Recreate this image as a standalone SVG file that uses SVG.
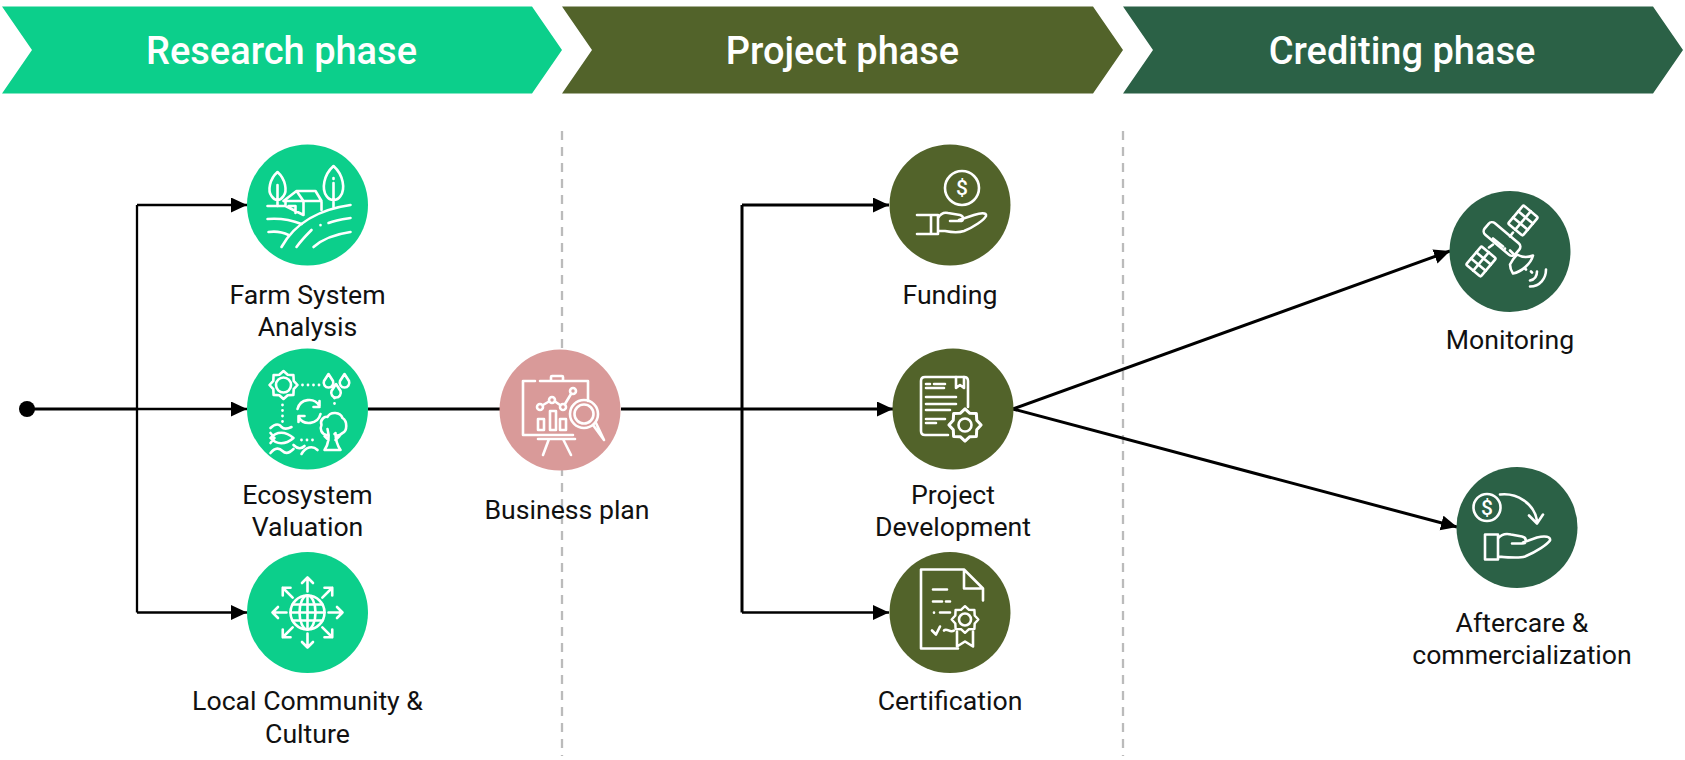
<svg xmlns="http://www.w3.org/2000/svg" width="1685" height="760" viewBox="0 0 1685 760">
<style>
.bg{fill:#fff}
.c1{fill:#0ccf8b}.c2{fill:#52632a}.c3{fill:#2b6146}.c4{fill:#d99a99}
.head{font:500 38px Roboto,"Liberation Sans",sans-serif;fill:#fff;text-anchor:middle}
.lab{font:400 26.670px Roboto,"Liberation Sans",sans-serif;fill:#111;text-anchor:middle}
.ic{fill:none;stroke:#fff;stroke-width:2.600;stroke-linecap:round;stroke-linejoin:round}
.dots{stroke-dasharray:0 5.500;stroke-width:2.800}
.dollar{font:500 21px Roboto,"Liberation Sans",sans-serif;fill:#fff;text-anchor:middle}
.div{stroke:#bbb;stroke-width:2.300;stroke-dasharray:9 7;fill:none}
.ln{stroke:#000;stroke-width:3;fill:none}
.th{stroke-width:2.300}
</style>
<defs>
<marker id="ah" markerUnits="userSpaceOnUse" markerWidth="17" markerHeight="16" refX="16" refY="7.500" orient="auto"><path d="M0 0L16 7.500L0 15Z" fill="#000"/></marker>
<polygon id="star" points="14,0 10.2,4.2 9.9,9.9 4.2,10.2 0,14 -4.2,10.2 -9.9,9.9 -10.2,4.2 -14,0 -10.2,-4.2 -9.9,-9.9 -4.2,-10.2 0,-14 4.2,-10.2 9.9,-9.9 10.2,-4.2"/>
<g id="arr"><path d="M0 -21V-35M-5.500 -29.500L0 -35L5.500 -29.500"/></g>
<g id="panel"><rect x="-12" y="-9.500" width="24" height="19" rx="1.500"/><path d="M-4 -9.500V9.500M4 -9.500V9.500M-12 0H12"/></g>
</defs>
<rect class="bg" width="1685" height="760"/>
<g id="dividers"><path class="div" d="M562 131V756"/><path class="div" d="M1123 131V756"/></g>
<g id="phase-research"><path class="c1" d="M2 6.500H532L562 50L532 93.500H2L32 50Z"/><text class="head" x="281.500" y="63.500">Research phase</text></g>
<g id="phase-project"><path class="c2" d="M562 6.500H1093L1123 50L1093 93.500H562L592 50Z"/><text class="head" x="842.500" y="63.500">Project phase</text></g>
<g id="phase-crediting"><path class="c3" d="M1123 6.500H1653L1683 50L1653 93.500H1123L1153 50Z"/><text class="head" x="1402" y="63.500">Crediting phase</text></g>
<g id="connectors">
<circle cx="27" cy="409" r="8" fill="#000"/>
<path class="ln" d="M27 409H137"/>
<path class="ln th" d="M137 205V612.500"/>
<path class="ln th" d="M137 205H247" marker-end="url(#ah)"/>
<path class="ln th" d="M137 409H247" marker-end="url(#ah)"/>
<path class="ln th" d="M137 612.500H247" marker-end="url(#ah)"/>
<path class="ln" d="M368 409H500"/>
<path class="ln" d="M621 409H893" marker-end="url(#ah)"/>
<path class="ln" d="M742 205V612.500"/>
<path class="ln" d="M742 205H889" marker-end="url(#ah)"/>
<path class="ln th" d="M742 612.500H889" marker-end="url(#ah)"/>
<path class="ln" d="M1013 409L1450 251" marker-end="url(#ah)"/>
<path class="ln" d="M1013 409L1457 527" marker-end="url(#ah)"/>
</g>
<g id="node-farm"><circle class="c1" cx="307.500" cy="205" r="60.500"/>
<g class="ic" transform="translate(307.500 205)">
<path d="M-30 -33C-38 -26 -40 -14 -36 -9C-34 -6 -32 -5 -30 -5C-28 -5 -26 -6 -24 -9C-20 -14 -22 -26 -30 -33ZM-30 -20V1"/>
<path d="M26 -39C16 -30 14 -16 19 -9C21 -6 24 -5 26 -5C28 -5 31 -6 33 -9C38 -16 36 -30 26 -39ZM26 -22V2M26 -27V-26"/>
<path d="M-40 1H-22L-4 10M-24 -4L-11 -14H8L14 -4H-24M-11 -14L-4 -4V10M14 -4V5M-22 -4V1M-19 1H-12V8"/>
<path d="M-40 14C-28 13 -16 15 -6 19M-39 27C-32 26 -25 27 -19 30"/>
<path d="M-26 42C-12 17 14 4 43 0"/>
<path d="M-11 42C-6 35 -1 30 4 25M6 42C15 34 29 29 43 27M21 18C28 15 36 14 43 13M13 20V20.200"/>
</g>
<text class="lab" x="307.500" y="304">Farm System</text><text class="lab" x="307.500" y="335.500">Analysis</text></g>
<g id="node-ecosystem"><circle class="c1" cx="307.500" cy="409" r="60.500"/>
<g class="ic" transform="translate(307.500 409)">
<use href="#star" transform="translate(-24 -24)"/><circle cx="-24" cy="-24" r="7.500"/>
<path class="dots" d="M-5 -24H13"/><path class="dots" d="M-25 -4V16"/><path class="dots" d="M27 -11V-3"/><path class="dots" d="M-6 31H6"/>
<path d="M21 -35L16.500 -28A4.800 4.800 0 1 0 25.500 -28ZM37 -35L32.500 -28A4.800 4.800 0 1 0 41.500 -28ZM28.500 -25L24 -18A4.800 4.800 0 1 0 33 -18Z"/>
<path d="M-10 0A12 12 0 0 1 12 -3M12 -8V-2H6M13 5A12 12 0 0 1 -9 8M-9 13V7H-3"/>
<path d="M19 26C14 25 12 20 14 16C12 11 17 7 20 8C23 2 33 3 35 9C40 12 40 22 35 24C32 27 29 27 27 25M20 20C22 27 21 35 17 41H33C29 35 28 30 28 24M21 31L17 27M28 31L32 27"/>
<path d="M-37 19C-32 14 -28 15 -26 18C-23 21 -20 20 -16 18"/>
<path d="M-37 29C-31 22 -22 22 -14 29C-22 36 -31 36 -37 29M-37 24L-33 29L-37 34"/>
<path d="M-37 44C-32 38 -28 39 -25 42C-22 45 -18 44 -14 40"/>
<path d="M-6 45C-2 38 5 36 10 41M-14 36C-10 40 -6 40 -3 37"/>
</g>
<text class="lab" x="307.500" y="504">Ecosystem</text><text class="lab" x="307.500" y="535.500">Valuation</text></g>
<g id="node-community"><circle class="c1" cx="307.500" cy="612.500" r="60.500"/>
<g class="ic" transform="translate(307.500 612.500)">
<circle r="17"/><ellipse rx="8" ry="17"/><path d="M0 -17V17M-17 0H17M-15 -8H15M-15 8H15"/>
<use href="#arr"/><use href="#arr" transform="rotate(45)"/><use href="#arr" transform="rotate(90)"/><use href="#arr" transform="rotate(135)"/><use href="#arr" transform="rotate(180)"/><use href="#arr" transform="rotate(225)"/><use href="#arr" transform="rotate(270)"/><use href="#arr" transform="rotate(315)"/>
</g>
<text class="lab" x="307.500" y="710">Local Community &amp;</text><text class="lab" x="307.500" y="742.500">Culture</text></g>
<g id="node-business"><circle class="c4" cx="560" cy="410" r="60.500"/>
<g class="ic" transform="translate(560 409)">
<path d="M-25 -28H-37V26H13M-20 -28H28V-8M-9 -28V-32Q-9 -33 -8 -33H2Q3 -33 3 -32V-28"/>
<circle cx="-20" cy="-2" r="3"/><circle cx="-8" cy="-9" r="3"/><circle cx="3" cy="-2" r="3"/><circle cx="13" cy="-18" r="3"/>
<path d="M-17 -4L-11 -7.500M-5 -7.500L0 -4M5 -5L11 -15"/>
<rect x="-22" y="10" width="6" height="11"/><rect x="-10" y="2" width="6" height="19"/><rect x="0" y="10" width="6" height="11"/>
<circle cx="24" cy="5" r="14"/><circle cx="24" cy="5" r="9.500"/><path d="M33 16L44 31M36 14L44 31"/>
<path d="M-22 30H15M-11 30L-17 46M3 30L11 46"/>
</g>
<text class="lab" x="567" y="519">Business plan</text></g>
<g id="node-funding"><circle class="c2" cx="950" cy="205" r="60.500"/>
<g class="ic" transform="translate(950 205)">
<circle cx="12" cy="-17" r="17"/>
<path d="M-33 10H-12V29H-33M-19 10V29M-12 13C-9 8 -6 7 -2 8L10 10C14 11 14 16 10 16H0M9 15L24 10C30 8 37 7 36 11C34 15 24 22 14 26C8 28 0 27 -5 26H-12"/>
</g>
<text class="dollar" x="962" y="195">$</text>
<text class="lab" x="950" y="304">Funding</text></g>
<g id="node-development"><circle class="c2" cx="953" cy="409" r="60.500"/>
<g class="ic" transform="translate(953 409)">
<path d="M-5 26H-28Q-32 26 -32 22V-28Q-32 -32 -28 -32H11Q15 -32 15 -28V-2"/>
<path d="M-27 -25H-23M-19 -25H-8M-27 -21H-9M-27 -12H3M-27 -5H3M-27 1H-3M-27 10H-8M-27 14H-17"/>
<path d="M3 -32V-21L7 -24L11 -21V-32"/>
<use href="#star" transform="translate(12 16) scale(1.150)"/><circle cx="12" cy="16" r="6.500"/>
</g>
<text class="lab" x="953" y="504">Project</text><text class="lab" x="953" y="535.500">Development</text></g>
<g id="node-certification"><circle class="c2" cx="950" cy="612.500" r="60.500"/>
<g class="ic" transform="translate(950 612.500)">
<path d="M8 36H-29V-43H14L33 -24V-12M14 -43V-24H33"/>
<path d="M-17 -23H-3M-17 -11H-8M-4 -11H0M-16 0V0.200M-10 0H0"/>
<path d="M-18 18L-14 22L-10 14M-6 18C-3 15 0 21 4 18"/>
<use href="#star" transform="translate(15 7) scale(.95)"/><circle cx="15" cy="7" r="6"/>
<path d="M7 19V34L15 29L23 34V19"/>
</g>
<text class="lab" x="950" y="710">Certification</text></g>
<g id="node-monitoring"><circle class="c3" cx="1510" cy="251.500" r="60.500"/>
<g class="ic" transform="translate(1510 251.500)">
<use href="#panel" transform="translate(13 -31) rotate(-50)"/>
<use href="#panel" transform="translate(-29 10) rotate(-50)"/>
<rect x="-20" y="-7.500" width="40" height="15" rx="4.500" transform="translate(-8 -12.500) rotate(40)"/>
<path d="M-17 -13L-7 -5M-5 -3V-2.800M-21 -4L-17 -7M3 -19L0 -15M4 3L0 -1"/>
<path d="M7 3C12 6 18 6 23 4C21 12 12 20 3 22C1 19 0 16 0 13C2 9 4 6 7 3Z"/>
<path d="M15 17L16 18M21 20L22 21M27 20C27 24 25 28 20 29M36 18C36 27 30 35 20 35"/>
</g>
<text class="lab" x="1510" y="349">Monitoring</text></g>
<g id="node-aftercare"><circle class="c3" cx="1517" cy="527.500" r="60.500"/>
<g class="ic" transform="translate(1517 527.500)">
<circle cx="-30" cy="-20" r="13.500"/>
<path d="M-17 -33C0 -35 17 -24 20 -7M12 -12L20 -4L26 -13"/>
<path d="M-32 7H-19V32H-32ZM-19 11C-15 6 -10 6 -6 7L5 9C10 10 10 16 5 16H-5M6 15L20 10C28 8 34 9 33 13C30 17 20 24 8 29C2 31 -8 30 -19 29"/>
</g>
<text class="dollar" x="1487" y="515">$</text>
<text class="lab" x="1522" y="632">Aftercare &amp;</text><text class="lab" x="1522" y="664">commercialization</text></g>
</svg>
